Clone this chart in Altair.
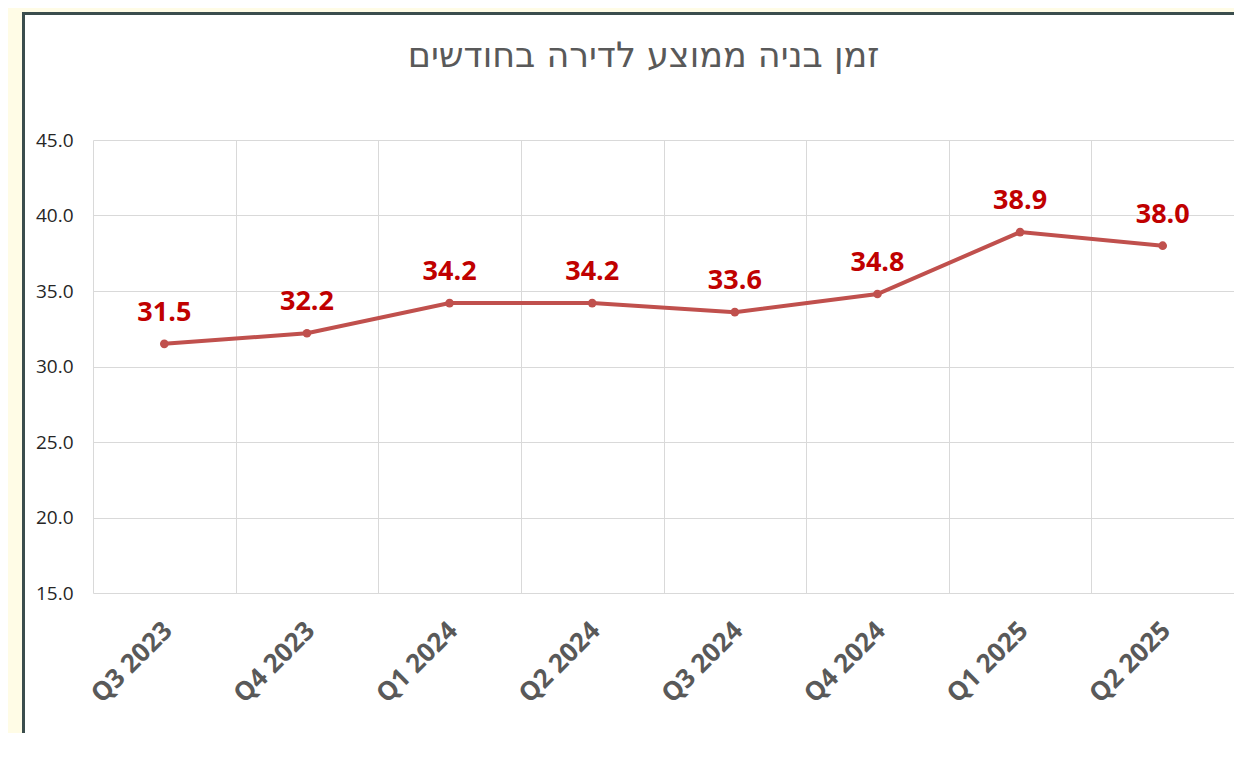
import altair as alt
import pandas as pd

quarters = ["Q3 2023", "Q4 2023", "Q1 2024", "Q2 2024", "Q3 2024", "Q4 2024", "Q1 2025", "Q2 2025"]
months = [31.5, 32.2, 34.2, 34.2, 33.6, 34.8, 38.9, 38.0]
y_ticks = [15, 20, 25, 30, 35, 40, 45]
title_text = "זמן בניה ממוצע לדירה בחודשים"

df = pd.DataFrame({"quarter": quarters, "months": months})
frame = pd.DataFrame({"k": [0]})

PL, PT, PR, PB = 85, 132, 0, 140
W, H = 1141, 453
CREAM = "#FFFCE6"
BORDER = "#3B4D4D"
FONT = "Open Sans"

x_enc = alt.X(
    "quarter:N",
    sort=quarters,
    scale=alt.Scale(type="band", paddingInner=0, paddingOuter=0),
    axis=alt.Axis(
        title=None, labelAngle=-45, labelFontWeight="bold", labelFontSize=26,
        labelColor="#595959", labelFont=FONT, domain=False, ticks=False,
        grid=True, tickBand="extent", gridColor="#D9D9D9", labelPadding=24,
        labelOffset=-6,
    ),
)
y_enc = alt.Y(
    "months:Q",
    scale=alt.Scale(domain=[15, 45], nice=False, zero=False),
    axis=alt.Axis(
        title=None, values=y_ticks, format=".1f", labelFontSize=19,
        labelColor="#262626", labelFont=FONT, domain=False, ticks=False,
        gridColor="#D9D9D9", labelPadding=20,
    ),
)

base = alt.Chart(df).encode(x=x_enc, y=y_enc)
line = base.mark_line(color="#C0504D", strokeWidth=4)
pts = base.mark_point(filled=True, color="#C0504D", size=75, opacity=1)
labels = base.mark_text(
    dy=-31, fontSize=27, fontWeight="bold", color="#C00000", font=FONT
).encode(text=alt.Text("months:Q", format=".1f"))

fr = alt.Chart(frame)
cream_left = fr.mark_rect(color=CREAM).encode(
    x=alt.value(-PL), x2=alt.value(-PL + 14), y=alt.value(-PT), y2=alt.value(H + PB)
)
cream_top = fr.mark_rect(color=CREAM).encode(
    x=alt.value(-PL), x2=alt.value(W + PR), y=alt.value(-PT), y2=alt.value(-PT + 4)
)
border_left = fr.mark_rect(color=BORDER).encode(
    x=alt.value(-PL + 14), x2=alt.value(-PL + 17), y=alt.value(-PT + 4), y2=alt.value(H + PB)
)
border_top = fr.mark_rect(color=BORDER).encode(
    x=alt.value(-PL + 14), x2=alt.value(W + PR), y=alt.value(-PT + 4), y2=alt.value(-PT + 7)
)

chart = alt.layer(
    cream_left, cream_top, border_left, border_top, line, pts, labels
).properties(
    width=W, height=H,
    autosize=alt.AutoSizeParams(type="none"),
    padding={"left": PL, "top": PT, "right": PR, "bottom": PB},
    background="white",
    title=alt.TitleParams(
        text=title_text, fontSize=35, font="DejaVu Sans", fontWeight="normal",
        color="#595959", anchor="middle", frame="group", offset=-66, dx=-20,
    ),
).configure_view(stroke=None)

chart.save("out.html", embed_options={"renderer": "svg", "actions": False})
